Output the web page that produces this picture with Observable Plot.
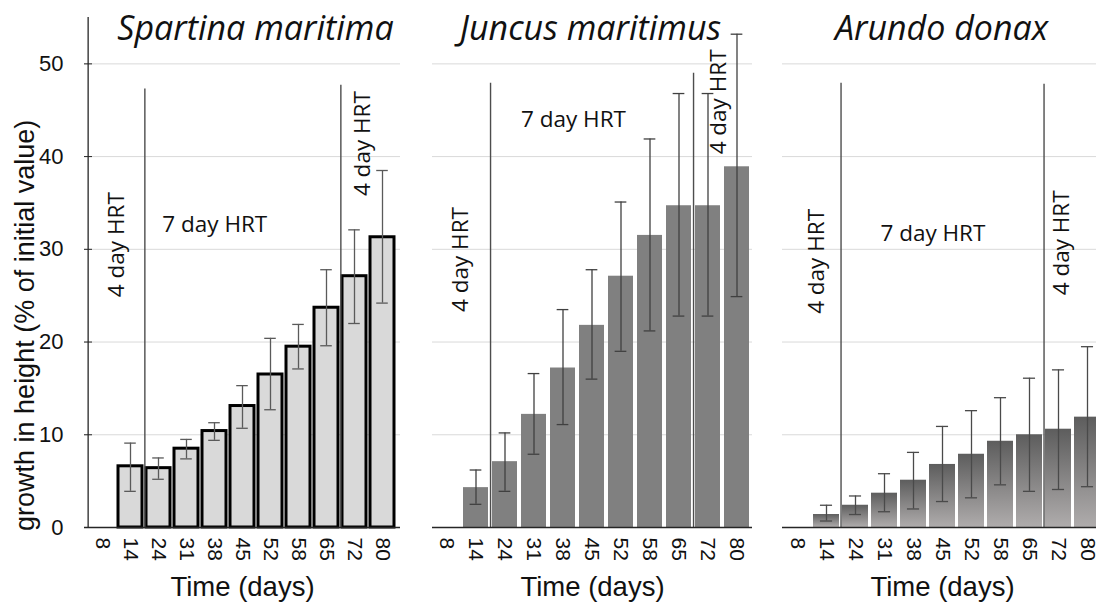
<!DOCTYPE html>
<html><head><meta charset="utf-8">
<script src="https://cdn.jsdelivr.net/npm/d3@7"></script>
<script src="https://cdn.jsdelivr.net/npm/@observablehq/plot@0.6"></script>
<style>
html,body{margin:0;padding:0;background:#fff;}
#wrap{position:relative;width:1096px;height:605px;overflow:hidden;background:#fff;}
.panel{position:absolute;top:0;}
.panel svg{max-width:none !important;}
</style></head><body><div id="wrap"></div>
<script>
// ---- data ----
const days = ["8","14","24","31","38","45","52","58","65","72","80"];
const barDays = ["14","24","31","38","45","52","58","65","72","80"];
const yTicks = [0,10,20,30,40,50];
const gridTicks = [10,20,30,40,50];

const spartinaMean = [6.6,6.4,8.5,10.4,13.1,16.5,19.5,23.7,27.1,31.3];
const spartinaLow  = [3.9,5.2,7.4,9.4,10.7,12.7,17.1,19.6,22.0,24.2];
const spartinaHigh = [9.1,7.5,9.5,11.3,15.3,20.4,21.9,27.8,32.1,38.5];

const juncusMean = [4.3,7.1,12.2,17.2,21.8,27.1,31.5,34.7,34.7,38.9];
const juncusLow  = [2.5,3.9,7.9,11.1,16.0,19.0,21.2,22.8,22.8,24.9];
const juncusHigh = [6.2,10.2,16.6,23.5,27.8,35.1,41.9,46.8,46.8,53.2];

const arundoMean = [1.4,2.4,3.7,5.1,6.8,7.9,9.3,10.0,10.6,11.9];
const arundoLow  = [0.7,1.4,1.7,2.0,2.8,3.2,4.6,3.9,4.1,4.4];
const arundoHigh = [2.4,3.4,5.8,8.1,10.9,12.6,14.0,16.1,17.0,19.5];

// HRT change after these sampling days (rule at right edge of band)
const hrtSwitchDays = ["14","65"];
const spartinaRuleTop = [47.3,47.7];
const juncusRuleTop = [47.9,49.0];
const arundoRuleTop = [47.9,47.8];

const titles = ["Spartina maritima","Juncus maritimus","Arundo donax"];
const yLabel = "growth in height (% of initial value)";
const xLabel = "Time (days)";

// annotation placement (band, fraction of step, y value)
const spartinaNotes = [
  {text:"4 day HRT", day:"14", shift:-0.48, y:30.5, rotate:-90},
  {text:"7 day HRT", day:"38", shift:0.01, y:32.6, rotate:0},
  {text:"4 day HRT", day:"72", shift:0.29, y:41.4, rotate:-90}
];
const juncusNotes = [
  {text:"4 day HRT", day:"14", shift:-0.51, y:28.9, rotate:-90},
  {text:"7 day HRT", day:"38", shift:0.36, y:44.0, rotate:0},
  {text:"4 day HRT", day:"72", shift:0.36, y:45.9, rotate:-90}
];
const arundoNotes = [
  {text:"4 day HRT", day:"14", shift:-0.34, y:28.7, rotate:-90},
  {text:"7 day HRT", day:"45", shift:-0.33, y:31.7, rotate:0},
  {text:"4 day HRT", day:"72", shift:0.12, y:30.7, rotate:-90}
];

const AXISFONT = "'Liberation Sans', Arial, sans-serif";
const NOTEFONT = "'Open Sans', sans-serif";

function makePanel(cfg) {
  const W = cfg.width, H = 605, mL = cfg.mL, mR = cfg.mR, mT = 17, mB = 78;
  const step = (W - mL - mR) / days.length;
  const bw = step * (1 - cfg.pad);
  const capInset = Math.max(0, (bw - 12) / 2);
  const data = barDays.map((d, i) => ({day: d, mean: cfg.mean[i], lo: cfg.low[i], hi: cfg.high[i]}));
  const rules = hrtSwitchDays.map((d, i) => ({day: d, top: cfg.ruleTop[i]}));
  const marks = [];
  if (cfg.gradient) {
    marks.push(() => {
      const defs = d3.create("svg:defs");
      const g = defs.append("linearGradient").attr("id", "arundoGrad")
        .attr("x1", 0).attr("y1", 0).attr("x2", 0).attr("y2", 1);
      g.append("stop").attr("offset", "0%").attr("stop-color", "#5d5d5d");
      g.append("stop").attr("offset", "100%").attr("stop-color", "#afacac");
      return defs.node();
    });
  }
  marks.push(Plot.gridY(gridTicks, {stroke: "#d9d9d9", strokeOpacity: 1, strokeWidth: 1}));
  marks.push(Plot.barY(data, {x: "day", y: "mean", fill: cfg.fill, stroke: cfg.stroke || "none", strokeWidth: cfg.strokeWidth || 0}));
  marks.push(Plot.ruleX(data, {x: "day", y1: "lo", y2: "hi", stroke: cfg.err, strokeWidth: 1.3}));
  marks.push(Plot.tickY(data, {x: "day", y: "lo", insetLeft: capInset, insetRight: capInset, stroke: cfg.err, strokeWidth: 1.3}));
  marks.push(Plot.tickY(data, {x: "day", y: "hi", insetLeft: capInset, insetRight: capInset, stroke: cfg.err, strokeWidth: 1.3}));
  marks.push(Plot.ruleX(rules, {x: "day", y1: () => 0, y2: "top", dx: step / 2, stroke: "#4d4d4d", strokeWidth: 1.4}));
  marks.push(Plot.ruleY([0], {stroke: "#262626", strokeWidth: 1.5}));
  if (cfg.yAxis) {
    marks.push(Plot.ruleX(["8"], {x: d => d, y1: () => 0, y2: () => 55, dx: -step / 2, stroke: "#262626", strokeWidth: 1.3}));
    marks.push(Plot.axisY({ticks: yTicks, tickSize: 8, dx: 8, tickFormat: () => "", stroke: "#262626", label: null}));
    marks.push(Plot.axisY({ticks: yTicks, tickSize: 0, tickPadding: 21, fontSize: 22, fontFamily: AXISFONT, fill: "#111", label: null}));
    marks.push(Plot.text([yLabel], {text: d => d, frameAnchor: "left", textAnchor: "middle", y: () => 21.8, dx: -59.5, rotate: -90, fontSize: 27, fontFamily: AXISFONT, fill: "#111"}));
  }
  marks.push(Plot.axisX({tickRotate: 90, tickSize: 0, tickPadding: 10, fontSize: 21, fontFamily: AXISFONT, fill: "#111", label: null}));
  marks.push(Plot.text([xLabel], {text: d => d, frameAnchor: "bottom", lineAnchor: "middle", dy: 60, fontSize: 27.5, fontFamily: AXISFONT, fill: "#111"}));
  marks.push(Plot.text([cfg.title], {text: d => d, frameAnchor: "top", lineAnchor: "middle", dy: 12, dx: cfg.titleDx, fontSize: 34, fontStyle: "italic", fontFamily: NOTEFONT, fill: "#111"}));
  for (const n of cfg.notes) {
    marks.push(Plot.text([n], {x: "day", y: "y", text: "text", dx: n.shift * step, rotate: n.rotate, fontSize: 22.5, fontFamily: NOTEFONT, fill: "#111"}));
  }
  const svg = Plot.plot({
    width: W, height: H, marginLeft: mL, marginRight: mR, marginTop: mT, marginBottom: mB,
    x: {type: "band", domain: days, paddingInner: cfg.pad, paddingOuter: cfg.pad / 2, axis: null},
    y: {domain: [0, 55], axis: null},
    style: {fontFamily: AXISFONT, fontSize: "21px", background: "transparent", color: "#111", overflow: "visible", maxWidth: "none"},
    marks
  });
  const div = document.createElement("div");
  div.className = "panel";
  div.style.left = cfg.left + "px";
  div.style.width = W + "px";
  div.style.height = H + "px";
  div.appendChild(svg);
  document.getElementById("wrap").appendChild(div);
}

makePanel({left: 0, width: 410, mL: 84, mR: 10, pad: 0.15, mean: spartinaMean, low: spartinaLow, high: spartinaHigh,
  fill: "#d9d9d9", stroke: "#000", strokeWidth: 3, err: "#5a5a5a", ruleTop: spartinaRuleTop, yAxis: true,
  title: titles[0], titleDx: 13, notes: spartinaNotes});
makePanel({left: 420, width: 340, mL: 12, mR: 8, pad: 0.13, mean: juncusMean, low: juncusLow, high: juncusHigh,
  fill: "#808080", err: "#404040", ruleTop: juncusRuleTop, yAxis: false,
  title: titles[1], titleDx: -2, notes: juncusNotes});
makePanel({left: 770, width: 340, mL: 12, mR: 8, pad: 0.11, mean: arundoMean, low: arundoLow, high: arundoHigh,
  fill: "url(#arundoGrad)", err: "#4a4a4a", ruleTop: arundoRuleTop, yAxis: false, gradient: true,
  title: titles[2], titleDx: -1, notes: arundoNotes});
</script></body></html>
